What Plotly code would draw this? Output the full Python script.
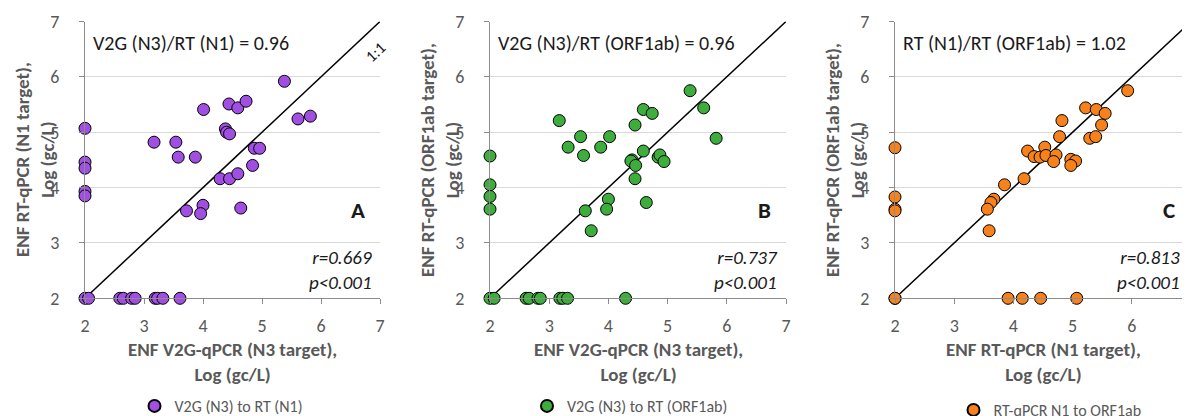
import plotly.graph_objects as go

# ---------------- data ----------------
xA = [2, 2, 2, 2, 2,
      2.0, 2.06, 2.59, 2.65, 2.79, 2.85, 3.19, 3.23, 3.32, 3.61,
      5.38, 4.01, 4.44, 4.59, 4.73, 5.61, 5.82, 4.38, 4.40, 4.45,
      3.17, 3.54, 3.58, 3.87, 4.87, 4.96, 4.84, 4.29, 4.45, 4.59,
      3.72, 4.00, 3.96, 4.64]
yA = [5.07, 4.46, 4.35, 3.93, 3.85,
      2, 2, 2, 2, 2, 2, 2, 2, 2, 2,
      5.92, 5.41, 5.51, 5.44, 5.56, 5.24, 5.29, 5.06, 5.00, 4.97,
      4.82, 4.82, 4.55, 4.55, 4.71, 4.71, 4.40, 4.16, 4.16, 4.25,
      3.58, 3.68, 3.53, 3.63]

xB = [2, 2, 2, 2,
      2, 2.07, 2.61, 2.66, 2.81, 2.85, 3.18, 3.23, 3.31, 4.29,
      5.38, 5.61, 5.82, 3.17, 4.59, 4.74, 4.45, 3.53, 4.02, 3.32,
      3.87, 3.58, 4.59, 4.40, 4.38, 4.46, 4.84, 4.87, 4.94, 4.45,
      4.00, 3.97, 3.61, 4.64, 3.71]
yB = [4.57, 4.05, 3.84, 3.61,
      2, 2, 2, 2, 2, 2, 2, 2, 2, 2,
      5.75, 5.44, 4.89, 5.21, 5.41, 5.34, 5.13, 4.92, 4.92, 4.73,
      4.73, 4.58, 4.66, 4.50, 4.48, 4.40, 4.55, 4.59, 4.47, 4.16,
      3.79, 3.61, 3.58, 3.73, 3.22]

xC = [2, 2, 2, 2, 2, 2,
      3.91, 4.15, 4.46, 5.07,
      5.93, 5.22, 5.40, 5.55, 5.49, 4.82, 4.78, 5.29, 5.39, 4.24,
      4.53, 4.35, 4.45, 4.55, 4.72, 4.68, 4.97, 5.05, 4.97, 4.18,
      3.85, 3.67, 3.62, 3.56, 3.59]
yC = [4.72, 3.83, 3.61, 3.58, 2, 2,
      2, 2, 2, 2,
      5.75, 5.44, 5.41, 5.34, 5.13, 5.21, 4.92, 4.89, 4.92, 4.66,
      4.73, 4.56, 4.55, 4.58, 4.59, 4.47, 4.51, 4.48, 4.40, 4.16,
      4.05, 3.79, 3.73, 3.61, 3.22]

one_to_one = [2, 7]
tick_vals = [2, 3, 4, 5, 6, 7]

series_names = ["V2G (N3) to RT (N1)", "V2G (N3) to RT (ORF1ab)", "RT-qPCR N1 to ORF1ab"]
panel_letters = ["A", "B", "C"]
ratio_texts = ["V2G (N3)/RT (N1) = 0.96", "V2G (N3)/RT (ORF1ab) = 0.96", "RT (N1)/RT (ORF1ab) = 1.02"]
stat_texts = ["r=0.669<br>p<0.001", "r=0.737<br>p<0.001", "r=0.813<br>p<0.001"]
x_titles = ["ENF V2G-qPCR (N3 target),<br>Log (gc/L)",
            "ENF V2G-qPCR (N3 target),<br>Log (gc/L)",
            "ENF RT-qPCR (N1 target),<br>Log (gc/L)"]
y_titles = ["ENF RT-qPCR (N1 target),<br>Log (gc/L)",
            "ENF RT-qPCR (ORF1ab target),<br>Log (gc/L)",
            "ENF RT-qPCR (ORF1ab target),<br>Log (gc/L)"]

# ---------------- style ----------------
W, H = 1190, 416
OFF = 8  # page body margin offset in the browser
FONT = "Carlito, Lato, sans-serif"
GRAY = "#595959"
colors = ["#A14FE3", "#3DAE3C", "#F7821B"]
xs = [xA, xB, xC]
ys = [yA, yB, yC]


def fx(px):
    return (px - OFF) / W


def fy(py):
    return 1 - (py - OFF) / H


# screen-pixel geometry of each plot area
x_pix = [(85, 380), (490, 786), (895, 1191)]
y_pix = (21.5, 298.3)
ydom = [fy(y_pix[1]), fy(y_pix[0])]
legend_cx = [221, 630, 1050]
legend_cy = [406, 406, 410]

fig = go.Figure()
layout = dict(
    width=W, height=H, margin=dict(l=0, r=0, t=0, b=0, autoexpand=False),
    paper_bgcolor="white", plot_bgcolor="white",
    font=dict(family=FONT, color=GRAY, size=17),
    showlegend=True,
)

annotations = []
for i in range(3):
    xa = "x" if i == 0 else f"x{i+1}"
    ya = "y" if i == 0 else f"y{i+1}"
    legname = "legend" if i == 0 else f"legend{i+1}"
    # 1:1 line
    fig.add_trace(go.Scatter(x=one_to_one, y=one_to_one, mode="lines",
                             line=dict(color="black", width=1.5),
                             xaxis=xa, yaxis=ya, showlegend=False,
                             hoverinfo="skip", cliponaxis=False))
    fig.add_trace(go.Scatter(x=xs[i], y=ys[i], mode="markers",
                             name=series_names[i],
                             marker=dict(size=12, color=colors[i],
                                         line=dict(color="black", width=1)),
                             xaxis=xa, yaxis=ya, legend=legname,
                             cliponaxis=False))

    x0, x1 = x_pix[i]
    axis_common = dict(
        range=[2, 7], tickvals=tick_vals, showline=True, linecolor="#8c8c8c",
        linewidth=1, ticks="outside", ticklen=5, tickcolor="#8c8c8c",
        tickfont=dict(family=FONT, size=18, color=GRAY), zeroline=False,
        fixedrange=True, automargin=False,
    )
    layout["xaxis" if i == 0 else f"xaxis{i+1}"] = dict(
        axis_common, domain=[fx(x0), min(fx(x1), 1.0)], anchor=ya, showgrid=False,
        ticklabelstandoff=6,
    )
    layout["yaxis" if i == 0 else f"yaxis{i+1}"] = dict(
        axis_common, domain=ydom, anchor=xa, showgrid=True,
        gridcolor="#d9d9d9", gridwidth=1, ticklabelstandoff=16,
    )
    layout[legname] = dict(
        x=fx(legend_cx[i]), y=fy(legend_cy[i]),
        xanchor="center", yanchor="middle", orientation="h",
        font=dict(family=FONT, size=16, color=GRAY),
        itemsizing="constant", bgcolor="rgba(0,0,0,0)",
    )

    # ratio text
    annotations.append(dict(xref=xa, yref=ya, x=2.1, y=6.61, text=ratio_texts[i],
                            showarrow=False, xanchor="left", yanchor="middle",
                            font=dict(family=FONT, size=20, color="#1a1a1a")))
    # panel letter
    annotations.append(dict(xref=xa, yref=ya, x=6.63, y=3.6, text="<b>" + panel_letters[i] + "</b>",
                            showarrow=False, xanchor="center", yanchor="middle",
                            font=dict(family=FONT, size=23, color="#1a1a1a")))
    # stats
    annotations.append(dict(xref=xa, yref=ya, x=6.9 if i < 2 else 6.84, y=2.51,
                            text="<i>" + stat_texts[i].replace("<br>", "</i><br><i>") + "</i>",
                            showarrow=False, xanchor="right", yanchor="middle", align="right",
                            font=dict(family=FONT, size=19, color="#1a1a1a")))
    # axis titles
    annotations.append(dict(xref="paper", yref="paper", x=fx((x0 + x1) / 2),
                            y=fy(362), text="<b>" + x_titles[i] + "</b>",
                            showarrow=False, xanchor="center", yanchor="middle",
                            font=dict(family=FONT, size=19, color=GRAY)))
    annotations.append(dict(xref="paper", yref="paper", x=fx(x0 - 50),
                            y=fy(160), text="<b>" + y_titles[i] + "</b>",
                            showarrow=False, textangle=-90, xanchor="center", yanchor="middle",
                            font=dict(family=FONT, size=19, color=GRAY)))

# 1:1 label (panel A)
annotations.append(dict(xref="x", yref="y", x=6.93, y=6.46, text="1:1", showarrow=False,
                        textangle=-43, font=dict(family=FONT, size=16, color="#1a1a1a")))

layout["annotations"] = annotations
fig.update_layout(**layout)
fig.write_html("out.html")
